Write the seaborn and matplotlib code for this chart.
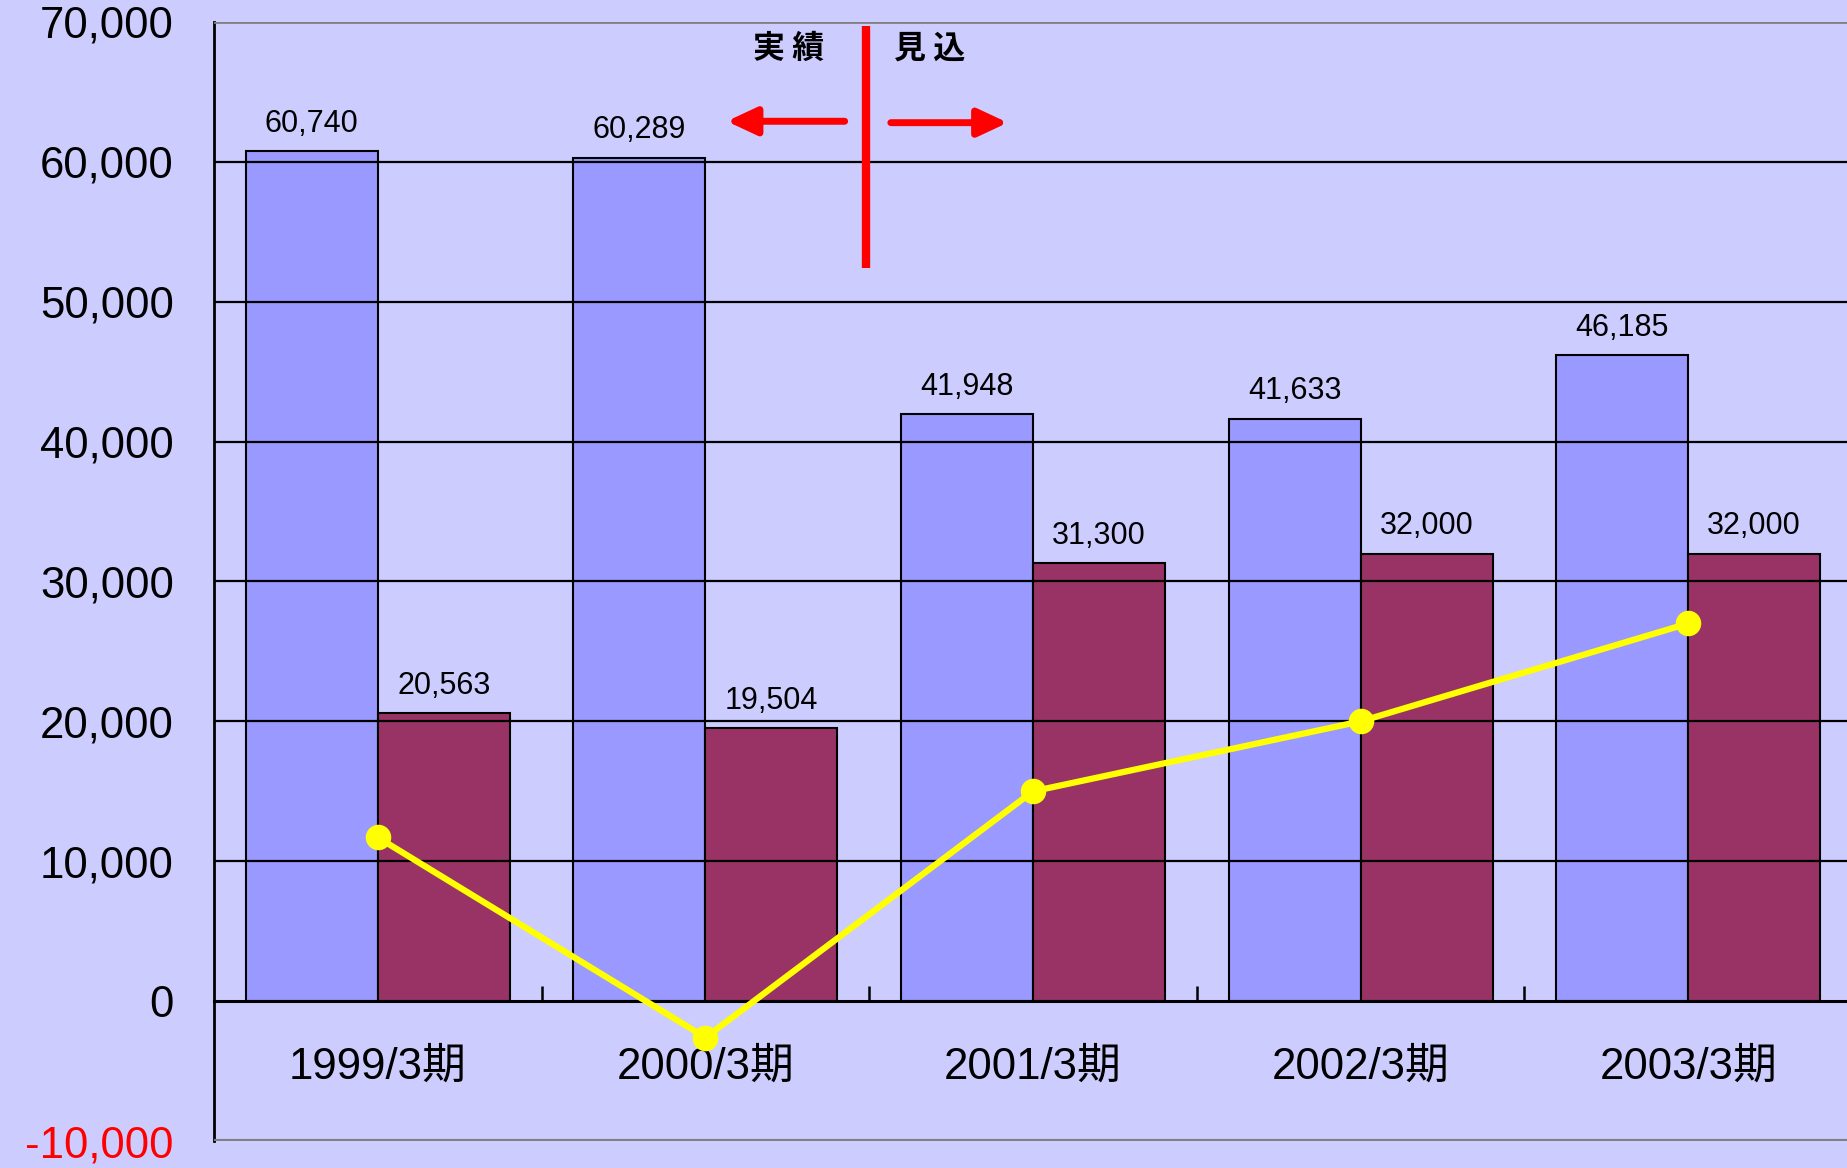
import matplotlib
matplotlib.use("Agg")
import matplotlib.pyplot as plt
import seaborn as sns
import pandas as pd

# DATA
# ==========================================================================
periods = ["1999/3期", "2000/3期", "2001/3期", "2002/3期", "2003/3期"]
blue_values = [60740, 60289, 41948, 41633, 46185]
red_values = [20563, 19504, 31300, 32000, 32000]
line_values = [11700, -2600, 15000, 20000, 27000]
y_ticks = [-10000, 0, 10000, 20000, 30000, 40000, 50000, 60000, 70000]

BG = "#CCCCFF"
BLUE = "#9999FF"
RED = "#993366"
YELLOW = "#FFFF00"

bars = pd.DataFrame({
    "period": periods * 2,
    "value": blue_values + red_values,
    "series": ["a"] * len(periods) + ["b"] * len(periods),
})
line = pd.DataFrame({"period": periods, "value": line_values})

# PLOT
# ==========================================================================
sns.set_theme(style="white")
plt.rcParams["font.family"] = ["Liberation Sans", "Noto Sans CJK JP", "DejaVu Sans"]
plt.rcParams["text.color"] = "black"
plt.rcParams["xtick.color"] = "black"
plt.rcParams["ytick.color"] = "black"

fig = plt.figure(figsize=(18.47, 11.68), dpi=100, facecolor=BG)
ax = fig.add_axes([0.1159, 0.0231, 0.8868, 0.9581])
ax.set_facecolor(BG)

for v in y_ticks[2:-1]:
    ax.axhline(v, color="black", lw=1.6, zorder=0)
ax.axhline(70000, color="#808080", lw=2, zorder=0)
ax.axhline(-10000, color="#808080", lw=3, zorder=0)

sns.barplot(data=bars, x="period", y="value", hue="series",
            palette=[BLUE, RED], saturation=1, width=0.806,
            edgecolor="black", linewidth=1.5, legend=False, ax=ax, zorder=2)

for cont, vals in zip(ax.containers, [blue_values, red_values]):
    ax.bar_label(cont, labels=[f"{v:,}" for v in vals], padding=9,
                 fontsize=22, color="black")

sns.pointplot(data=line, x="period", y="value", color=YELLOW,
              markers="o", markersize=15, linewidth=4.5, errorbar=None,
              ax=ax)
for ln in ax.lines:
    ln.set_zorder(5)

ax.set_xlim(-0.5, 4.5)
ax.set_ylim(-10000, 70000)
ax.set_yticks(y_ticks)
ax.set_yticklabels([f"{v:,}" for v in y_ticks])
ax.set_xlabel("")
ax.set_ylabel("")

ax.spines["bottom"].set_position(("data", 0))
ax.spines["bottom"].set_linewidth(2.2)
ax.spines["bottom"].set_color("black")
ax.spines["bottom"].set_zorder(3)
ax.spines["left"].set_linewidth(2)
ax.spines["left"].set_color("black")
ax.spines["top"].set_visible(False)
ax.spines["right"].set_visible(False)

ax.tick_params(axis="y", direction="in", length=11, width=1.8,
               labelsize=31.5, pad=29, colors="black")
ax.get_yticklabels()[0].set_color("red")
ax.set_xticks([0.5, 1.5, 2.5, 3.5], minor=True)
ax.tick_params(axis="x", which="major", length=0, labelsize=31.5, pad=33,
               labelcolor="black")
ax.tick_params(axis="x", which="minor", direction="in", length=11,
               width=1.8, bottom=True, color="black")

# 実績 / 見込 divider
ax.plot([1.49, 1.49], [52400, 69700], color="red", lw=6, zorder=6,
        solid_capstyle="butt")
arrow = dict(arrowstyle="-|>,head_length=1.5,head_width=0.7", color="red",
             lw=5, shrinkA=0, shrinkB=0)
ax.annotate("", xy=(1.065, 62900), xytext=(1.425, 62900), arrowprops=arrow,
            zorder=6)
ax.annotate("", xy=(1.923, 62800), xytext=(1.566, 62800), arrowprops=arrow,
            zorder=6)
ax.text(1.255, 68100, "実 績", ha="center", va="center", fontsize=23,
        fontweight="bold", family="Noto Sans CJK JP", color="black")
ax.text(1.685, 68100, "見 込", ha="center", va="center", fontsize=23,
        fontweight="bold", family="Noto Sans CJK JP", color="black")

plt.savefig("out.png", dpi=100, facecolor=BG)
